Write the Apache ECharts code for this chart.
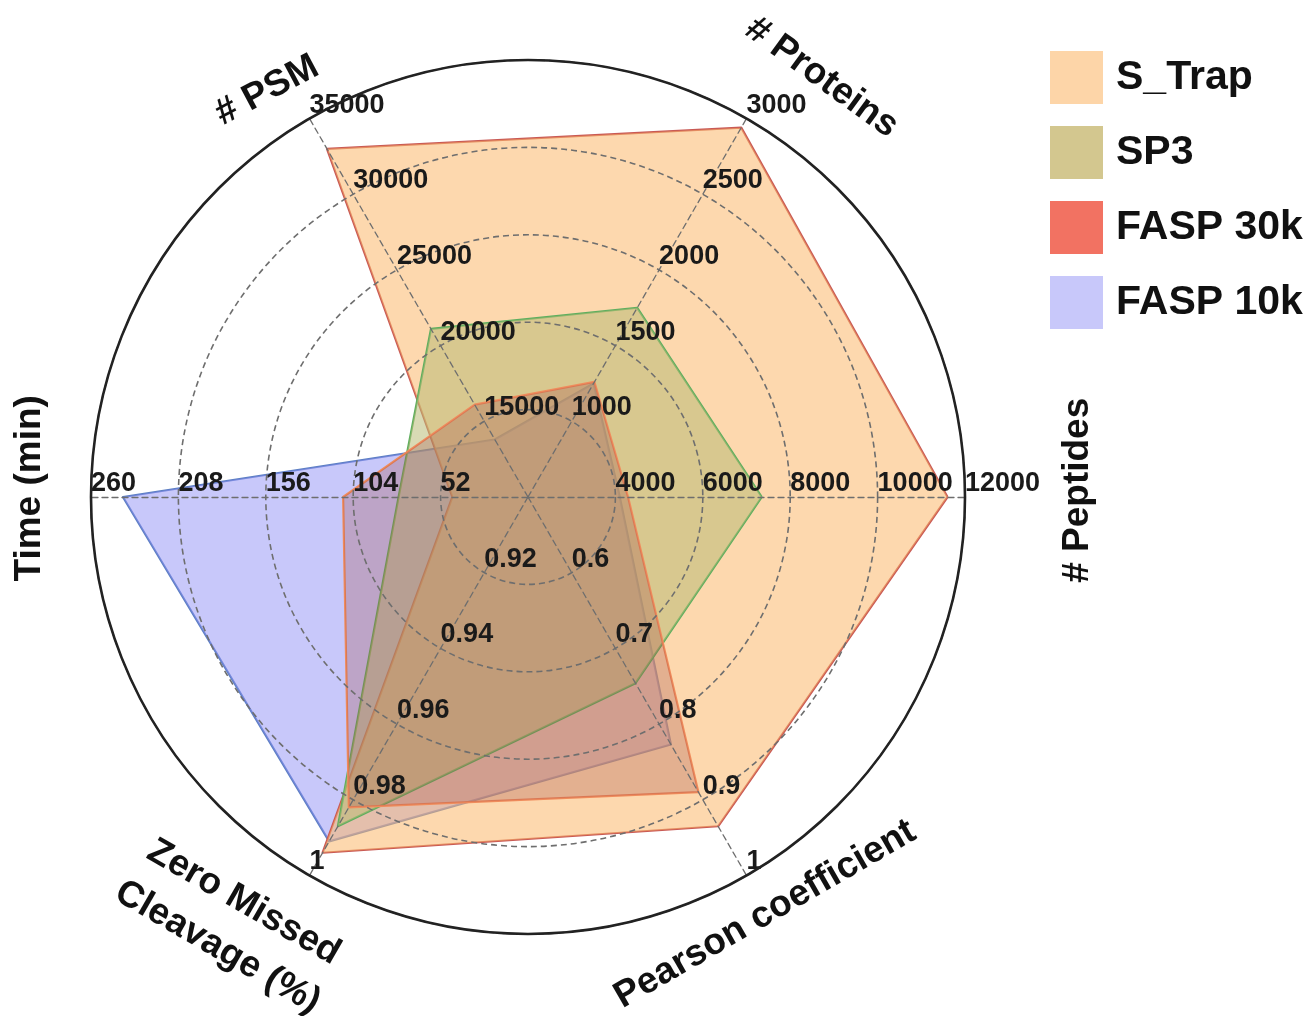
<!DOCTYPE html>
<html>
<head>
<meta charset="utf-8">
<title>Sample preparation radar</title>
<script src="https://cdn.jsdelivr.net/npm/echarts@6/dist/echarts.min.js"></script>
<style>
  html, body { margin: 0; padding: 0; background: #fff; }
  #chart { width: 1316px; height: 1016px; }
</style>
</head>
<body>
<div id="chart"></div>
<script>
// Radar axes (counter-clockwise from the right-hand axis)
const axisNames = ['# Peptides', '# Proteins', '# PSM', 'Time (min)', 'Zero Missed\nCleavage (%)', 'Pearson coefficient'];
const axisMin = [2000, 500, 10000, 0, 0.9, 0.5];
const axisMax = [12000, 3000, 35000, 260, 1, 1];

// Method names
const methods = ['S_Trap', 'SP3', 'FASP 30k', 'FASP 10k'];

// Values per method, in axis order
const sTrapValues   = [11600, 2940, 33000, 45, 0.994, 0.935];
const sp3Values     = [7350, 1750, 21100, 77, 0.987, 0.746];
const fasp30kValues = [4290, 1260, 16100, 110, 0.982, 0.89];
const fasp10kValues = [4100, 1250, 13800, 241, 0.991, 0.827];

// Layout
const CX = 528, CY = 497, R = 437;
const FONT = '"Liberation Sans", Arial, Helvetica, sans-serif';

// Axis title placement: polar angle (deg), distance from centre, text rotation (deg)
const nameLayout = [
  { angle: 0.7,   dist: 550, rotate: 90 },
  { angle: 55,    dist: 512, rotate: -36 },
  { angle: 122.7, dist: 483, rotate: 28 },
  { angle: 179.0, dist: 498, rotate: 90 },
  { angle: 235.2, dist: 521, rotate: -30 },
  { angle: 299.6, dist: 480, rotate: 30 }
];

const indicators = axisNames.map((n, i) => ({ name: n, min: axisMin[i], max: axisMax[i] }));

const nameGraphics = axisNames.map((n, i) => {
  const L = nameLayout[i];
  const a = L.angle * Math.PI / 180;
  return {
    type: 'text',
    x: CX + L.dist * Math.cos(a),
    y: CY - L.dist * Math.sin(a),
    rotation: L.rotate * Math.PI / 180,
    z: 10,
    style: {
      text: n,
      font: 'bold 37px ' + FONT,
      fill: '#111',
      textAlign: 'center',
      textVerticalAlign: 'middle',
      lineHeight: 52
    }
  };
});

const styles = {
  'S_Trap':   { fill: '#fbb86b', fillOpacity: 0.55, line: '#c95a55', swatch: '#fdd5a8' },
  'SP3':      { fill: '#babb76', fillOpacity: 0.55, line: '#5fae5f', swatch: '#d3c78f' },
  'FASP 30k': { fill: '#a24845', fillOpacity: 0.28, line: '#f08c5c', swatch: '#f27262' },
  'FASP 10k': { fill: '#9191f5', fillOpacity: 0.50, line: '#5d7fc4', swatch: '#c8c8fa' }
};
const valuesByMethod = {
  'S_Trap': sTrapValues, 'SP3': sp3Values, 'FASP 30k': fasp30kValues, 'FASP 10k': fasp10kValues
};

// Drawing order: FASP 10k underneath, FASP 30k on top
const drawOrder = ['FASP 10k', 'S_Trap', 'SP3', 'FASP 30k'];

const series = drawOrder.map(m => ({
  name: m,
  type: 'radar',
  radarIndex: 0,
  symbol: 'none',
  z: 2,
  lineStyle: { color: styles[m].line, width: 2.2 },
  itemStyle: { color: styles[m].swatch },
  areaStyle: { color: styles[m].fill, opacity: styles[m].fillOpacity },
  data: [{ name: m, value: valuesByMethod[m] }]
}));

const chart = echarts.init(document.getElementById('chart'), null, { renderer: 'canvas' });
chart.setOption({
  backgroundColor: '#fff',
  animation: false,
  legend: {
    orient: 'vertical',
    left: 1045,
    top: 46,
    icon: 'rect',
    itemWidth: 53,
    itemHeight: 53,
    itemGap: 22,
    data: methods.map(m => ({
      name: m,
      itemStyle: { color: styles[m].swatch, borderWidth: 0 }
    })),
    textStyle: {
      fontFamily: FONT,
      fontWeight: 'bold',
      fontSize: 41,
      color: '#111',
      padding: [0, 0, 0, 8]
    }
  },
  radar: [
    {
      center: [CX, CY],
      radius: R,
      startAngle: 0,
      shape: 'circle',
      splitNumber: 5,
      z: 3,
      indicator: indicators,
      axisName: { show: false },
      splitArea: { show: false },
      splitLine: { lineStyle: { color: '#6e6e6e', width: 1.6, type: [6, 4] } },
      axisLine: { lineStyle: { color: '#6e6e6e', width: 1.3, type: [6, 4] } },
      axisTick: { show: false },
      axisLabel: {
        show: true,
        margin: 0,
        align: 'left',
        verticalAlign: 'bottom',
        color: '#1a1a1a',
        fontFamily: FONT,
        fontWeight: 'bold',
        fontSize: 27,
        formatter: (v, i) => (i === 0 ? '' : String(+(+v).toFixed(4)))
      }
    },
    {
      center: [CX, CY],
      radius: R,
      startAngle: 0,
      shape: 'circle',
      splitNumber: 1,
      z: 4,
      indicator: indicators,
      axisName: { show: false },
      splitArea: { show: false },
      splitLine: { lineStyle: { color: '#222', width: 2.6 } },
      axisLine: { show: false },
      axisTick: { show: false },
      axisLabel: { show: false }
    }
  ],
  graphic: nameGraphics,
  series: series
});
</script>
</body>
</html>
